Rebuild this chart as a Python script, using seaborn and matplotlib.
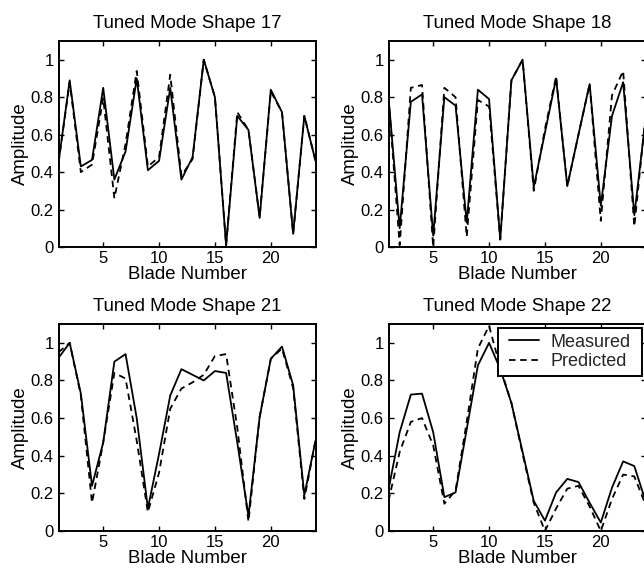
import numpy as np
import pandas as pd
import matplotlib
matplotlib.use("Agg")
import matplotlib.pyplot as plt
from matplotlib.path import Path
import seaborn as sns

# Blade index and amplitudes for each tuned mode shape
blades = list(range(1, 25))

mode_titles = ["Tuned Mode Shape 17", "Tuned Mode Shape 18",
               "Tuned Mode Shape 21", "Tuned Mode Shape 22"]

mode17_measured = [0.45, 0.89, 0.43, 0.465, 0.85, 0.36, 0.51, 0.90, 0.41, 0.46, 0.85, 0.36,
                   0.48, 1.00, 0.80, 0.01, 0.70, 0.625, 0.155, 0.84, 0.72, 0.07, 0.70, 0.46]
mode17_predicted = [0.45, 0.88, 0.40, 0.44, 0.795, 0.26, 0.55, 0.94, 0.43, 0.48, 0.92, 0.38,
                    0.47, 1.00, 0.80, 0.01, 0.72, 0.625, 0.16, 0.83, 0.72, 0.07, 0.70, 0.46]

mode18_measured = [0.80, 0.10, 0.775, 0.815, 0.06, 0.80, 0.755, 0.13, 0.84, 0.79, 0.04, 0.89,
                   1.00, 0.32, 0.61, 0.90, 0.325, 0.60, 0.87, 0.22, 0.70, 0.88, 0.17, 0.68]
mode18_predicted = [0.80, 0.01, 0.85, 0.865, 0.00, 0.85, 0.80, 0.055, 0.785, 0.75, 0.04, 0.89,
                    1.00, 0.30, 0.63, 0.91, 0.325, 0.60, 0.87, 0.14, 0.81, 0.94, 0.11, 0.70]

mode21_measured = [0.92, 1.00, 0.73, 0.24, 0.47, 0.90, 0.94, 0.60, 0.12, 0.41, 0.72, 0.86,
                   0.83, 0.80, 0.85, 0.84, 0.47, 0.08, 0.605, 0.915, 0.98, 0.775, 0.19, 0.48]
mode21_predicted = [0.95, 1.00, 0.72, 0.15, 0.47, 0.84, 0.81, 0.48, 0.10, 0.31, 0.65, 0.757,
                    0.79, 0.83, 0.93, 0.94, 0.55, 0.05, 0.605, 0.915, 0.97, 0.76, 0.17, 0.48]

mode22_measured = [0.22, 0.525, 0.725, 0.73, 0.525, 0.18, 0.205, 0.54, 0.88, 1.00, 0.86, 0.68,
                   0.42, 0.16, 0.055, 0.205, 0.277, 0.26, 0.15, 0.045, 0.23, 0.37, 0.345, 0.16]
mode22_predicted = [0.16, 0.42, 0.58, 0.60, 0.455, 0.145, 0.215, 0.58, 0.97, 1.09, 0.87, 0.68,
                    0.41, 0.15, 0.0, 0.12, 0.225, 0.24, 0.13, 0.0, 0.17, 0.30, 0.29, 0.14]

series_labels = ["Measured", "Predicted"]
x_ticks = [5, 10, 15, 20]
y_ticks = [0, 0.2, 0.4, 0.6, 0.8, 1]
y_tick_labels = ["0", "0.2", "0.4", "0.6", "0.8", "1"]

sns.set_theme(style="white")
plt.rcParams["font.family"] = ["Liberation Sans", "DejaVu Sans"]
plt.rcParams["axes.edgecolor"] = "black"
plt.rcParams["axes.linewidth"] = 1.4

W, H = 644, 569
fig = plt.figure(figsize=(W / 100, H / 100), dpi=100)
fig.patch.set_facecolor("white")

# axes boxes in pixels: (left, top, right, bottom)
boxes = [(58.5, 41, 315.5, 247), (388.5, 41, 645.5, 247),
         (58.5, 324, 315.5, 531), (388.5, 324, 645.5, 531)]

panels = [(mode17_measured, mode17_predicted), (mode18_measured, mode18_predicted),
          (mode21_measured, mode21_predicted), (mode22_measured, mode22_predicted)]

dash_style = (0, (3.6, 2.6))


def wide_box(x0, y0, width, height, mutation_size):
    # legend frame with extra room on the left and right only
    dx = 0.3 * mutation_size
    return Path([(x0 - dx, y0), (x0 + width + dx, y0), (x0 + width + dx, y0 + height),
                 (x0 - dx, y0 + height), (x0 - dx, y0)], closed=True)


for i, ((meas, pred), box, title) in enumerate(zip(panels, boxes, mode_titles)):
    l, t, r, b = box
    ax = fig.add_axes([l / W, 1 - b / H, (r - l) / W, (b - t) / H])
    df = pd.DataFrame({"blade": blades, "measured": meas, "predicted": pred})
    sns.lineplot(data=df, x="blade", y="measured", color="black", linewidth=1.3,
                 ax=ax, label=series_labels[0], legend=False)
    sns.lineplot(data=df, x="blade", y="predicted", color="black", linewidth=1.3,
                 linestyle=dash_style, ax=ax, label=series_labels[1], legend=False)
    ax.set_xlim(1, 24)
    ax.set_ylim(0, 1.1)
    ax.set_xticks(x_ticks)
    ax.set_yticks(y_ticks)
    ax.set_yticklabels(y_tick_labels)
    ax.tick_params(direction="in", length=3.5, width=1.0, colors="black",
                   labelsize=12, top=True, right=True, bottom=True, left=True)
    ax.tick_params(axis="x", pad=3)
    ax.tick_params(axis="y", pad=3.5)
    for s in ax.spines.values():
        s.set_visible(True)
        s.set_color("black")
        s.set_linewidth(1.4)
    ax.set_title(title, fontsize=13.4, pad=9.5, color="black")
    ax.set_xlabel("Blade Number", fontsize=13.4, labelpad=0, color="black")
    ax.set_ylabel("Amplitude", fontsize=13.4, labelpad=1, color="black")
    ax.set_facecolor("white")
    if i == 3:
        aw, ah = r - l, b - t
        leg = ax.legend(loc="upper right", bbox_to_anchor=(1 - 9.3 / aw, 1 - 4.3 / ah),
                        borderaxespad=0, fontsize=13, frameon=True, fancybox=False,
                        handlelength=1.65, handletextpad=0.65, labelspacing=0.15,
                        borderpad=0.3, framealpha=1.0)
        frame = leg.get_frame()
        frame.set_boxstyle(wide_box)
        frame.set_edgecolor("black")
        frame.set_linewidth(1.4)

fig.savefig("out.png", dpi=100, facecolor="white")
